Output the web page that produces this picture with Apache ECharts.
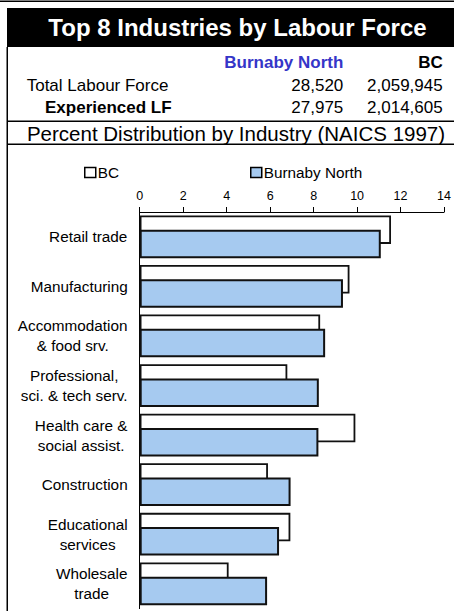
<!DOCTYPE html>
<html>
<head>
<meta charset="utf-8">
<title>Top 8 Industries by Labour Force</title>
<script src="https://cdn.jsdelivr.net/npm/echarts@6/dist/echarts.min.js"></script>
<style>
    html, body { margin: 0; padding: 0; background: #fff; }
    #chart { width: 454px; height: 611px; }
</style>
</head>
<body>
<div id="chart"></div>
<script>
var titleText = 'Top 8 Industries by Labour Force';
var subTitleText = 'Percent Distribution by Industry (NAICS 1997)';
var areaNames = ['Burnaby North', 'BC'];
var rowLabels = ['Total Labour Force', 'Experienced LF'];
var burnabyCounts = ['28,520', '27,975'];
var bcCounts = ['2,059,945', '2,014,605'];

var categories = [
    'Retail trade',
    'Manufacturing',
    'Accommodation\n& food srv.',
    'Professional,\nsci. & tech serv.',
    'Health care &\nsocial assist.',
    'Construction',
    'Educational\nservices',
    'Wholesale\ntrade'
];
var bcValues = [11.56, 9.65, 8.30, 6.79, 9.92, 5.90, 6.93, 4.09];
var burnabyValues = [11.09, 9.35, 8.53, 8.24, 8.22, 6.94, 6.41, 5.86];
var xMin = 0, xMax = 14, xStep = 2;

var FONT = '"Liberation Sans", Arial, sans-serif';
var LABEL_SIZE = 15.3;

// width of each multi-line label, so lines get centred inside a right-aligned block
var measureCtx = document.createElement('canvas').getContext('2d');
measureCtx.font = LABEL_SIZE + 'px "Liberation Sans"';
var labelRich = {};
categories.forEach(function (c, i) {
    var w = 0;
    c.split('\n').forEach(function (line) {
        w = Math.max(w, measureCtx.measureText(line).width);
    });
    labelRich['c' + i] = {
        width: Math.ceil(w),
        align: 'center',
        fontSize: LABEL_SIZE,
        fontFamily: FONT,
        color: '#000',
        lineHeight: 20
    };
});

function headerText(text, x, baseline, size, weight, color, align) {
    return {
        type: 'text',
        silent: true,
        style: {
            text: text,
            x: x,
            y: baseline - size * 0.34,
            fontSize: size,
            fontWeight: weight,
            fontFamily: FONT,
            fill: color,
            textAlign: align,
            textVerticalAlign: 'middle'
        }
    };
}

function lineRect(x, y, w, h) {
    return {type: 'rect', silent: true, shape: {x: x, y: y, width: w, height: h}, style: {fill: '#000'}};
}

var graphics = [
    lineRect(0, 0.5, 454, 1.5),
    lineRect(7, 8, 447, 39),
    lineRect(6.5, 47, 1.5, 564),
    lineRect(7, 120.5, 447, 1.5),
    lineRect(7, 143.5, 447, 1.5),
    headerText(titleText, 237.5, 36, 24, 'bold', '#fff', 'center'),
    headerText(areaNames[0], 343.3, 68.3, 17, 'bold', '#3535C8', 'right'),
    headerText(areaNames[1], 442.7, 68.3, 17, 'bold', '#000', 'right'),
    headerText(rowLabels[0], 26.7, 91.7, 17, 'normal', '#000', 'left'),
    headerText(rowLabels[1], 45, 113.3, 17, 'bold', '#000', 'left'),
    headerText(burnabyCounts[0], 343.3, 91.7, 17, 'normal', '#000', 'right'),
    headerText(bcCounts[0], 442.7, 91.7, 17, 'normal', '#000', 'right'),
    headerText(burnabyCounts[1], 343.3, 113.3, 17, 'normal', '#000', 'right'),
    headerText(bcCounts[1], 442.7, 113.3, 17, 'normal', '#000', 'right'),
    headerText(subTitleText, 236, 140, 20.5, 'normal', '#000', 'center')
];

var chart = echarts.init(document.getElementById('chart'), null, {renderer: 'svg'});

var legendBase = {
    top: 160,
    itemWidth: 11,
    itemHeight: 10,
    icon: 'rect',
    selectedMode: false,
    itemStyle: {borderWidth: 1.5, borderColor: '#000'},
    textStyle: {fontSize: LABEL_SIZE, fontFamily: FONT, color: '#000', padding: [0, 0, 0, -3]}
};

var option = {
    animation: false,
    textStyle: {fontFamily: FONT},
    graphic: graphics,
    legend: [
        Object.assign({}, legendBase, {left: 79, data: ['BC']}),
        Object.assign({}, legendBase, {left: 245, data: ['Burnaby North']})
    ],
    grid: {left: 139.7, right: 7.3, top: 212, bottom: 2.4, containLabel: false},
    xAxis: {
        type: 'value',
        position: 'top',
        min: xMin,
        max: xMax,
        interval: xStep,
        axisLine: {show: true, lineStyle: {color: '#000', width: 1}},
        axisTick: {show: true, length: 5, lineStyle: {color: '#000', width: 1}},
        axisLabel: {fontSize: 12.5, fontFamily: FONT, color: '#000', margin: 10},
        splitLine: {show: false}
    },
    yAxis: {
        type: 'category',
        inverse: true,
        data: categories,
        axisLine: {show: true, lineStyle: {color: '#000', width: 1}},
        axisTick: {show: false},
        axisLabel: {
            interval: 0,
            margin: 12,
            formatter: function (value) {
                var i = categories.indexOf(value);
                return value.split('\n').map(function (line) {
                    return '{c' + i + '|' + line + '}';
                }).join('\n');
            },
            rich: labelRich
        }
    },
    series: [
        {
            name: 'BC',
            type: 'bar',
            data: bcValues,
            barWidth: 28.5,
            barGap: '-50%',
            itemStyle: {color: '#fff', borderColor: '#111', borderWidth: 1.8}
        },
        {
            name: 'Burnaby North',
            type: 'bar',
            data: burnabyValues,
            barWidth: 28.5,
            barGap: '-50%',
            itemStyle: {color: '#A6CAF0', borderColor: '#111', borderWidth: 2}
        }
    ]
};

chart.setOption(option);
</script>
</body>
</html>
